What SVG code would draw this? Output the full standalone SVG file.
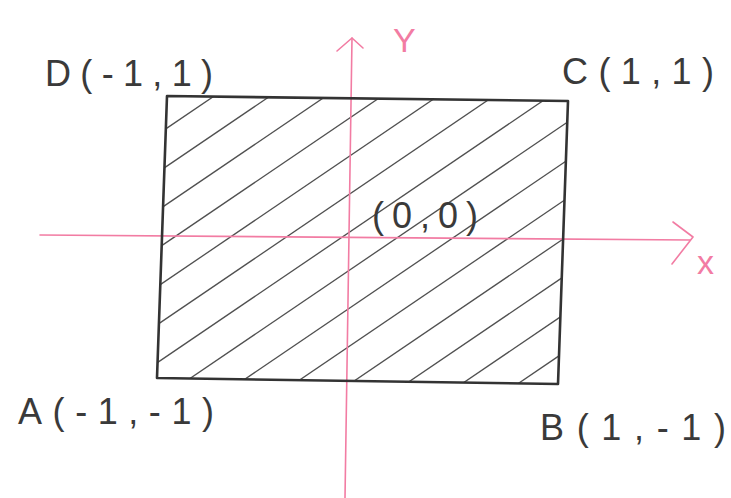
<svg xmlns="http://www.w3.org/2000/svg" width="731" height="498" viewBox="0 0 731 498">
<style>
.axis{stroke:#f27ca3;stroke-width:1.6;fill:none;stroke-linecap:round;stroke-linejoin:round}
.hatch{stroke:#505050;stroke-width:1.3;fill:none}
.rect{stroke:#333;stroke-width:2.6;fill:none;stroke-linejoin:round}
.lbl{font-family:"Liberation Sans","DejaVu Sans",sans-serif;fill:#3a3a3a;font-size:36px}
.albl{font-family:"Liberation Sans","DejaVu Sans",sans-serif;fill:#f27ca3;font-size:34px}
</style>
<defs>
<clipPath id="rc"><polygon points="167,96 568,101 558,384 157,378"/></clipPath>
</defs>
<rect width="731" height="498" fill="#fff"/>
<g id="hatching" clip-path="url(#rc)">
<line class="hatch" x1="120" y1="160" x2="600" y2="-166"/>
<line class="hatch" x1="120" y1="198" x2="600" y2="-128"/>
<line class="hatch" x1="120" y1="236" x2="600" y2="-90"/>
<line class="hatch" x1="120" y1="274" x2="600" y2="-52"/>
<line class="hatch" x1="120" y1="312" x2="600" y2="-14"/>
<line class="hatch" x1="120" y1="350" x2="600" y2="24"/>
<line class="hatch" x1="120" y1="388" x2="600" y2="62"/>
<line class="hatch" x1="120" y1="426" x2="600" y2="100"/>
<line class="hatch" x1="120" y1="464" x2="600" y2="138"/>
<line class="hatch" x1="120" y1="502" x2="600" y2="176"/>
<line class="hatch" x1="120" y1="540" x2="600" y2="214"/>
<line class="hatch" x1="120" y1="578" x2="600" y2="252"/>
<line class="hatch" x1="120" y1="616" x2="600" y2="290"/>
<line class="hatch" x1="120" y1="654" x2="600" y2="328"/>
<line class="hatch" x1="120" y1="692" x2="600" y2="366"/>
</g>
<g id="axes">
<path class="axis" d="M352,38 L345,498"/>
<path class="axis" d="M337,51 L352,38 L363,48"/>
<path class="axis" d="M40,235 L690,240"/>
<path class="axis" d="M673,222 L693,237 L672,264"/>
<text class="albl" x="393" y="52">Y</text>
<text class="albl" x="697" y="274" font-size="26">x</text>
</g>
<g id="rectangle">
<polygon class="rect" points="167,96 568,101 558,384 157,378"/>
</g>
<g id="D"><text class="lbl" x="45" y="86" textLength="168" lengthAdjust="spacing">D(-1,1)</text></g>
<g id="C"><text class="lbl" x="562" y="84" textLength="152" lengthAdjust="spacing">C(1,1)</text></g>
<g id="O"><text class="lbl" x="372" y="228" font-size="32" textLength="106" lengthAdjust="spacing">(0,0)</text></g>
<g id="A"><text class="lbl" x="18" y="424" textLength="196" lengthAdjust="spacing">A(-1,-1)</text></g>
<g id="B"><text class="lbl" x="540" y="440" textLength="186" lengthAdjust="spacing">B(1,-1)</text></g>
</svg>
